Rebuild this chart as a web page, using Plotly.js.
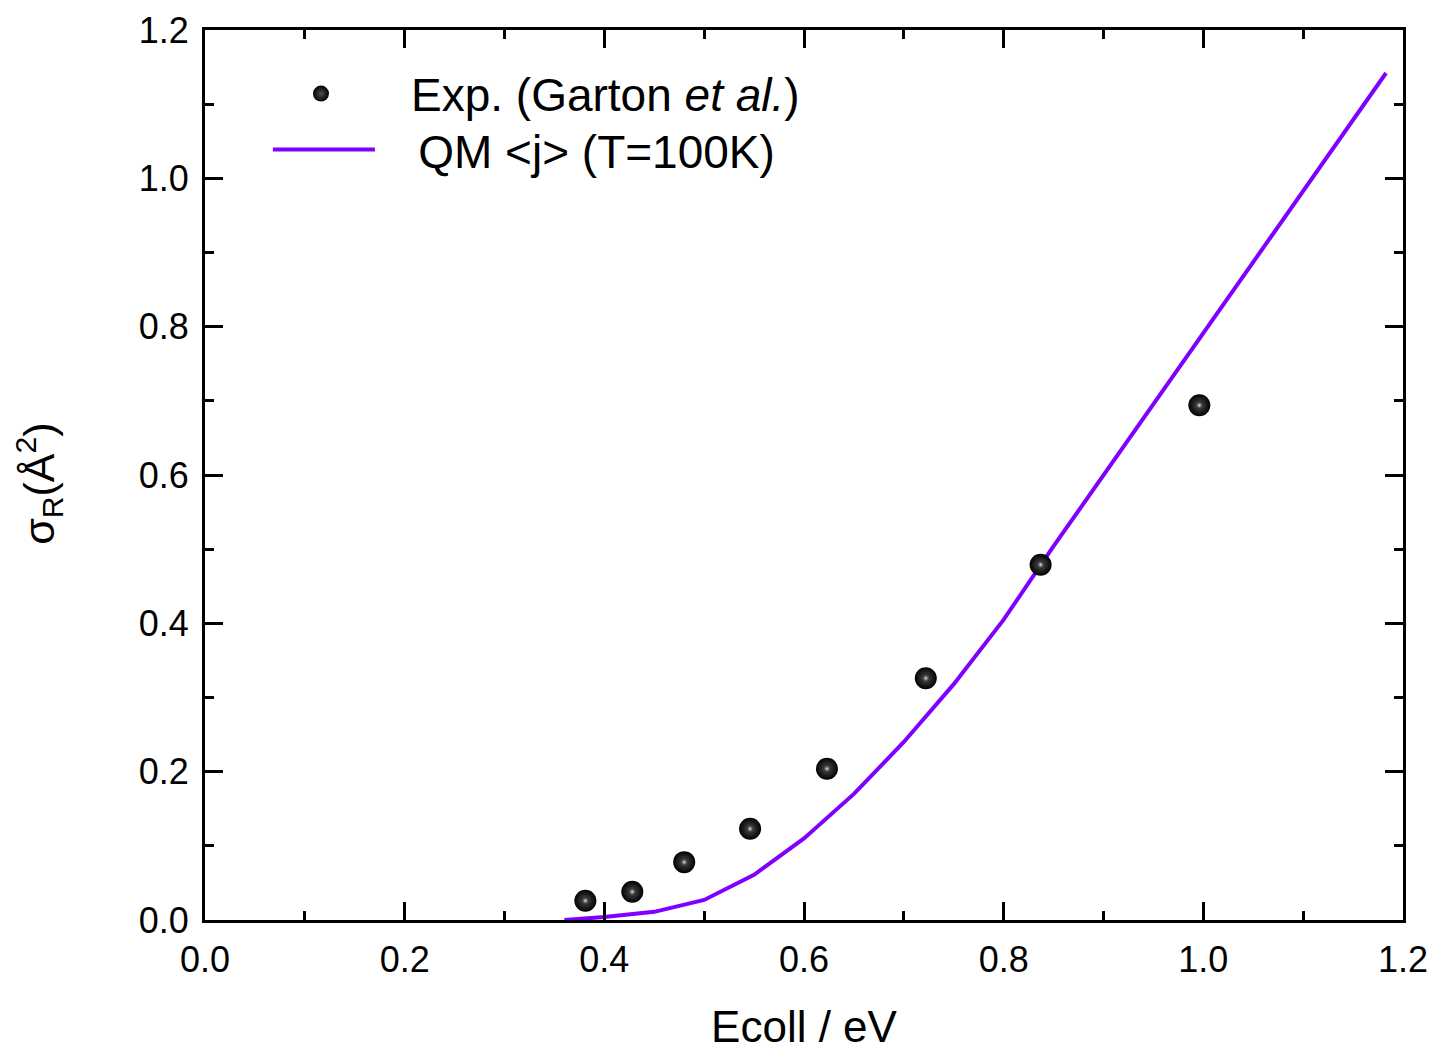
<!DOCTYPE html>
<html>
<head>
<meta charset="utf-8">
<script src="https://cdn.plot.ly/plotly-3.0.1.min.js"></script>
<style>html,body{margin:0;padding:0;background:#fff;}#chart{width:1436px;height:1055px;}</style>
</head>
<body>
<div id="chart"></div>
<script>
// Experimental data (Garton et al.)
const expEnergy = [0.381, 0.428, 0.480, 0.546, 0.623, 0.722, 0.837, 0.996];
const expSigma  = [0.026, 0.038, 0.078, 0.123, 0.204, 0.326, 0.479, 0.694];

// QM <j> (T=100K) curve
const qmEnergy = [0.36, 0.40, 0.45, 0.50, 0.55, 0.60, 0.65, 0.70, 0.75, 0.80, 0.85, 0.90, 0.95, 1.00, 1.05, 1.10, 1.15, 1.183];
const qmSigma  = [0.000, 0.004, 0.011, 0.027, 0.061, 0.110, 0.170, 0.240, 0.318, 0.405, 0.504, 0.600, 0.696, 0.791, 0.887, 0.983, 1.079, 1.142];

const xTicks = [0.0, 0.2, 0.4, 0.6, 0.8, 1.0, 1.2];
const yTicks = [0.0, 0.2, 0.4, 0.6, 0.8, 1.0, 1.2];

const FONT = 'Liberation Sans, Arial, Helvetica, sans-serif';
const NB = '\u00a0';

const traces = [
  {
    x: qmEnergy, y: qmSigma, type: 'scatter', mode: 'lines',
    name: NB + NB + NB + 'QM &lt;j&gt; (T=100K)',
    line: {color: '#7F00FF', width: 4},
    legend: 'legend2', showlegend: true
  },
  {
    x: expEnergy, y: expSigma, type: 'scatter', mode: 'markers',
    name: 'Exp. (Garton <i>et al.</i>)',
    marker: {size: 22, color: '#000000', gradient: {type: 'radial', color: '#505050'}, line: {width: 0}},
    legend: 'legend', showlegend: true
  },
  {
    // specular highlight on the same experimental points
    x: expEnergy, y: expSigma, type: 'scatter', mode: 'markers',
    name: 'highlight', hoverinfo: 'skip',
    marker: {size: 9, color: 'rgba(0,0,0,0)', gradient: {type: 'radial', color: '#f0f0f0'}, line: {width: 0}},
    showlegend: false
  }
];

const axisCommon = {
  showline: true, linecolor: '#000', linewidth: 3, mirror: 'ticks',
  ticks: 'inside', ticklen: 18, tickwidth: 3, tickcolor: '#000',
  showgrid: false, zeroline: false,
  tickfont: {family: FONT, size: 36, color: '#000'},
  minor: {ticks: 'inside', ticklen: 9, tickwidth: 3, tickcolor: '#000', dtick: 0.1, showgrid: false}
};

const legendCommon = {
  xanchor: 'left', yanchor: 'top',
  bgcolor: 'rgba(0,0,0,0)', borderwidth: 0,
  font: {family: FONT, size: 46, color: '#000'}
};

const layout = {
  width: 1436, height: 1055,
  margin: {l: 205, r: 33, t: 30, b: 135},
  paper_bgcolor: '#fff', plot_bgcolor: '#fff',
  font: {family: FONT, color: '#000'},
  xaxis: Object.assign({}, axisCommon, {
    range: [0, 1.2], tickvals: xTicks, ticktext: xTicks.map(v => v.toFixed(1)),
    ticklabelstandoff: 6,
    title: {text: 'Ecoll / eV', font: {family: FONT, size: 44, color: '#000'}, standoff: 32}
  }),
  yaxis: Object.assign({}, axisCommon, {
    range: [0, 1.2], tickvals: yTicks, ticktext: yTicks.map(v => v.toFixed(1)),
    ticklabelstandoff: 6
  }),
  annotations: [{
    text: 'σ<sub>R</sub>(Å<sup>2</sup>)', textangle: -90,
    xref: 'paper', yref: 'paper', x: -0.1386, y: 0.49,
    xanchor: 'center', yanchor: 'middle', showarrow: false,
    font: {family: FONT, size: 43, color: '#000'}
  }],
  showlegend: true,
  legend: Object.assign({}, legendCommon, {x: 0.0217, y: 0.9695, itemwidth: 170}),
  legend2: Object.assign({}, legendCommon, {x: 0.0525, y: 0.9065, itemwidth: 102})
};

Plotly.newPlot('chart', traces, layout, {displayModeBar: false, staticPlot: true});
</script>
</body>
</html>
